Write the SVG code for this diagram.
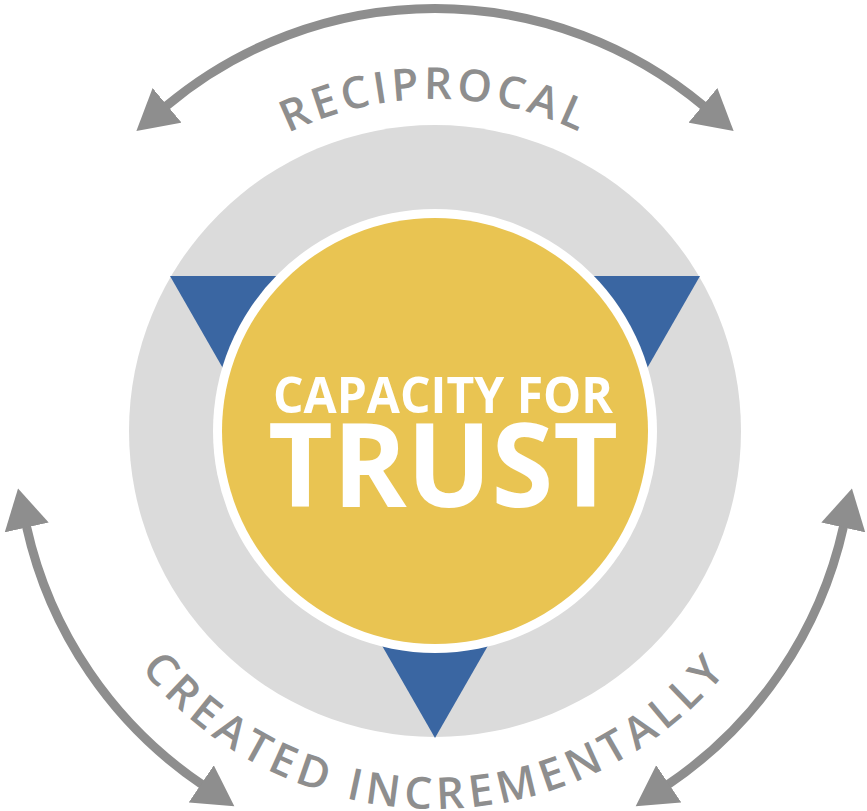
<svg xmlns="http://www.w3.org/2000/svg" width="867" height="811" viewBox="0 0 867 811">
<defs>
<style>
.arc{fill:none;stroke:#8e8e8e;stroke-width:9;marker-start:url(#ah);marker-end:url(#ah)}
.lbl{font-family:"Open Sans","Noto Sans",sans-serif;font-weight:600;font-size:44px;fill:#8e8e8e}
.ctr{font-family:"Open Sans","Noto Sans",sans-serif;font-weight:700;fill:#ffffff;text-anchor:middle}
</style>
<marker id="ah" markerUnits="userSpaceOnUse" viewBox="0 -23 41 46" markerWidth="41" markerHeight="46" refX="1" refY="0" orient="auto-start-reverse">
<path d="M0,-22.5 L40,0 L0,22.5 Z" fill="#8e8e8e"/>
</marker>
<path id="topPath" d="M103,431 A332,332 0 0 1 767,431"/>
<path id="botPath" d="M57,431 A378,378 0 0 0 813,431"/>
</defs>
<rect width="867" height="811" fill="#ffffff"/>
<g id="ring">
<circle cx="435" cy="431" r="306" fill="#dbdbdb"/>
</g>
<g id="triangle">
<polygon points="170,276 700,276 435,738" fill="#3a66a2"/>
</g>
<g id="core">
<circle cx="435" cy="431" r="222" fill="#ffffff"/>
<circle cx="435" cy="431" r="213" fill="#e9c452"/>
<text class="ctr" x="443" y="413" font-size="51" textLength="340" lengthAdjust="spacingAndGlyphs">CAPACITY FOR</text>
<text class="ctr" x="443" y="506.5" font-size="116" textLength="350" lengthAdjust="spacingAndGlyphs">TRUST</text>
</g>
<g id="connectors">
<path class="arc" d="M166.3,106 A419,419 0 0 1 703.7,106"/>
<path class="arc" d="M26.5,526.5 A422,422 0 0 0 202,784.5"/>
<path class="arc" d="M843.5,526.5 A422,422 0 0 1 668,784.5"/>
</g>
<g id="label-reciprocal">
<text class="lbl" letter-spacing="4"><textPath href="#topPath" startOffset="50%" text-anchor="middle">RECIPROCAL</textPath></text>
</g>
<g id="label-created">
<text class="lbl" letter-spacing="5.5"><textPath href="#botPath" startOffset="50%" text-anchor="middle">CREATED INCREMENTALLY</textPath></text>
</g>
</svg>
